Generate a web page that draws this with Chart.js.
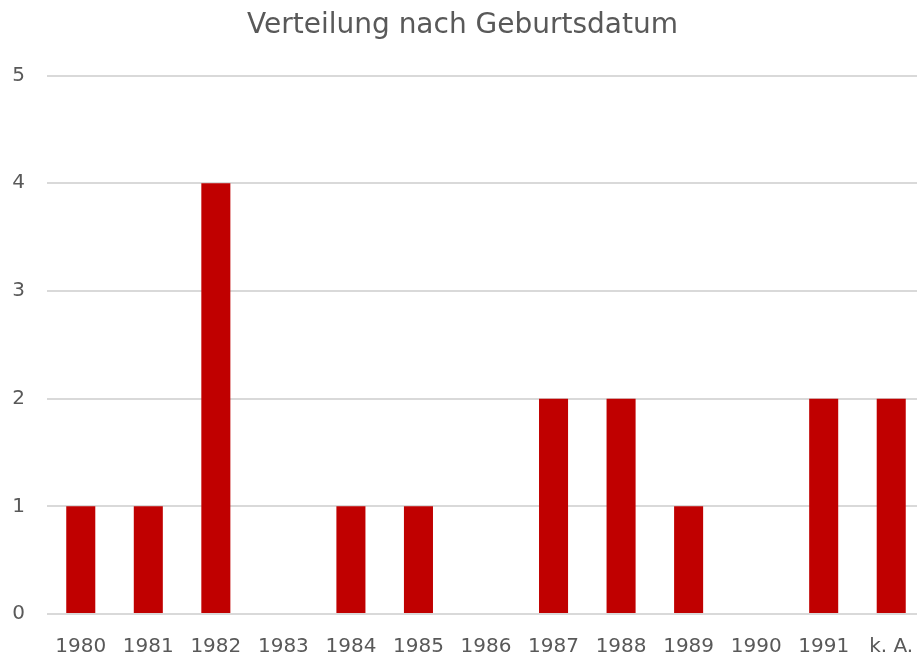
<!DOCTYPE html>
<html>
<head>
<meta charset="utf-8">
<script src="https://cdn.jsdelivr.net/npm/chart.js@4.4.1/dist/chart.umd.min.js"></script>
<style>
  html, body { margin: 0; padding: 0; background: #fff; overflow: hidden; }
  #wrap { width: 925px; height: 660px; }
</style>
</head>
<body>
<div id="wrap"><canvas id="birthChart"></canvas></div>
<script>
// Verteilung nach Geburtsdatum
const years = ["1980", "1981", "1982", "1983", "1984", "1985", "1986", "1987", "1988", "1989", "1990", "1991", "k. A."];
const counts = [1, 1, 4, 0, 1, 1, 0, 2, 2, 1, 0, 2, 2];
const yTicks = [0, 1, 2, 3, 4, 5];

const textColor = "#595959";
const fontFamily = "'DejaVu Sans', Verdana, sans-serif";

new Chart(document.getElementById("birthChart"), {
    type: "bar",
    data: {
        labels: years,
        datasets: [{
            label: "Anzahl",
            data: counts,
            backgroundColor: "#C00000",
            barPercentage: 0.43,
            categoryPercentage: 1.0
        }]
    },
    options: {
        responsive: true,
        maintainAspectRatio: false,
        animation: false,
        layout: { padding: { left: 0, right: 0, top: 0, bottom: 0 } },
        plugins: {
            legend: { display: false },
            tooltip: { enabled: false },
            title: {
                display: true,
                text: "Verteilung nach Geburtsdatum",
                color: textColor,
                font: { family: fontFamily, size: 28, weight: "normal" },
                padding: { top: 9, bottom: 33 }
            }
        },
        scales: {
            x: {
                grid: { display: false, drawTicks: false },
                border: { display: false },
                afterFit: (axis) => {
                    axis.height = 46;
                    axis.paddingLeft = 0;
                    axis.paddingRight = 0;
                },
                ticks: {
                    color: textColor,
                    font: { family: fontFamily, size: 20 },
                    padding: 21,
                    maxRotation: 0,
                    autoSkip: false
                }
            },
            y: {
                min: 0,
                max: 5,
                afterBuildTicks: (axis) => { axis.ticks = yTicks.map(v => ({ value: v })); },
                afterFit: (axis) => { axis.width = 47; },
                grid: { color: "#D9D9D9", lineWidth: 2, drawTicks: false },
                border: { display: false },
                ticks: {
                    color: textColor,
                    font: { family: fontFamily, size: 20 },
                    padding: 22
                }
            }
        }
    }
});
</script>
</body>
</html>
